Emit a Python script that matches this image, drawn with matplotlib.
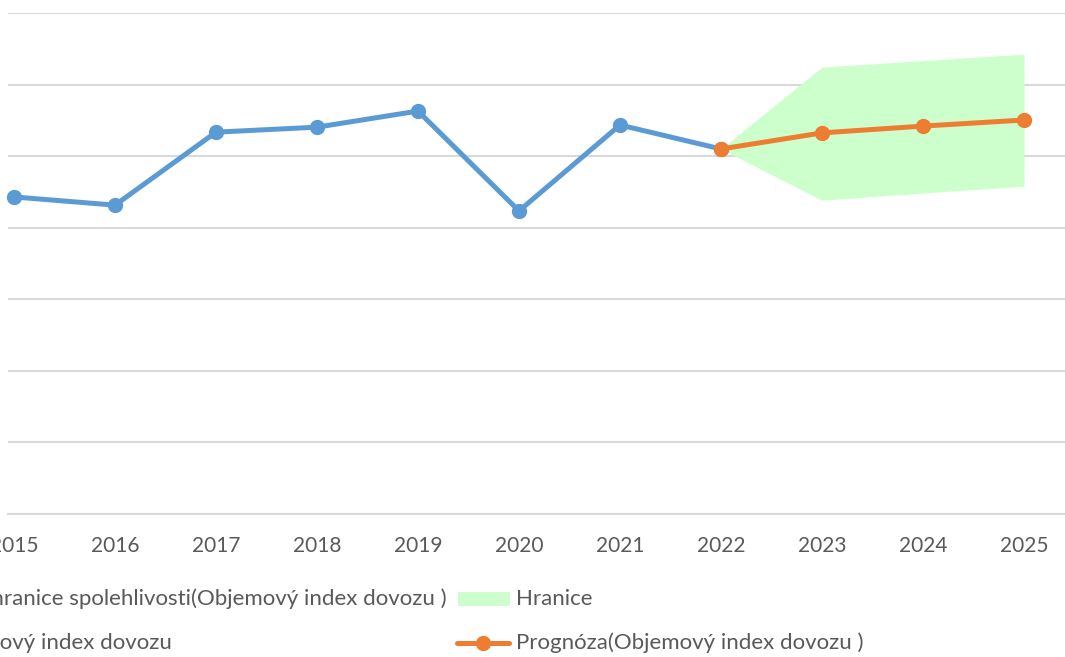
import matplotlib
matplotlib.use("Agg")
import matplotlib.pyplot as plt
from matplotlib.lines import Line2D
from matplotlib.patches import Rectangle

plt.rcParams['font.family'] = ['Lato', 'DejaVu Sans']

years = [2015, 2016, 2017, 2018, 2019, 2020, 2021, 2022, 2023, 2024, 2025]
actual_years = [2015, 2016, 2017, 2018, 2019, 2020, 2021, 2022]
actual = [88.6, 86.3, 106.7, 108.1, 112.6, 84.7, 108.7, 102.0]
fc_years = [2022, 2023, 2024, 2025]
forecast = [102.0, 106.5, 108.4, 110.1]
upper = [102.0, 124.9, 126.7, 128.5]
lower = [102.0, 87.7, 89.7, 91.6]
tick_labels = [str(y) for y in years]

lbl_lower = "Dolní hranice spolehlivosti(Objemový index dovozu )"
lbl_band = "Hranice"
lbl_actual = "Objemový index dovozu"
lbl_fc = "Prognóza(Objemový index dovozu )"

W, H = 1065, 657
fig = plt.figure(figsize=(W / 100, H / 100), dpi=100)

def fx(px):
    return px / W

def fy(py):
    return 1 - py / H

ax = fig.add_axes([fx(8), fy(514), fx(1065) - fx(8), fy(13) - fy(514)])
ax.set_xlim(2015 - 6 / 101, 2025 + 41 / 101)
ax.set_ylim(0, 140)
ax.set_yticks(range(0, 141, 20))
ax.yaxis.grid(True, color='#D9D9D9', lw=1.5)
ax.set_axisbelow(True)
for s in ['top', 'right', 'left']:
    ax.spines[s].set_visible(False)
ax.spines['bottom'].set_color('#D9D9D9')
ax.spines['bottom'].set_linewidth(1.5)
ax.tick_params(axis='y', left=False, labelleft=False)
ax.set_xticks(years)
ax.set_xticklabels(tick_labels)
ax.tick_params(axis='x', length=0, pad=16, labelsize=15, labelcolor='#595959')

blue = '#5B9BD5'
orange = '#ED7D31'
green = '#CCFFCC'

ax.fill_between(fc_years, lower, upper, color=green, lw=0, zorder=1)
ax.plot(actual_years, actual, color=blue, lw=3.6, marker='o', ms=10, zorder=3,
        solid_capstyle='round', clip_on=False)
ax.plot(fc_years, forecast, color=orange, lw=3.6, marker='o', ms=10, zorder=4,
        solid_capstyle='round', clip_on=False)

# Legend (manually placed to match the cropped layout)
fs = 16
tc = '#595959'
y1, y2 = fy(599), fy(643)
fig.text(fx(447), y1, lbl_lower, ha='right', va='center', fontsize=fs, color=tc)
fig.text(fx(172), y2, lbl_actual, ha='right', va='center', fontsize=fs, color=tc)
fig.patches.append(Rectangle((fx(458), fy(606)), fx(510) - fx(458), fy(592) - fy(606),
                             transform=fig.transFigure, facecolor=green, edgecolor='none'))
fig.text(fx(516), y1, lbl_band, ha='left', va='center', fontsize=fs, color=tc)
fig.lines.append(Line2D([fx(457), fx(509)], [y2, y2], transform=fig.transFigure,
                        color=orange, lw=3.6, solid_capstyle='round'))
fig.lines.append(Line2D([fx(483)], [y2], transform=fig.transFigure, color=orange,
                        marker='o', ms=10, lw=0))
fig.text(fx(516), y2, lbl_fc, ha='left', va='center', fontsize=fs, color=tc)

fig.savefig('out.png', dpi=100)
